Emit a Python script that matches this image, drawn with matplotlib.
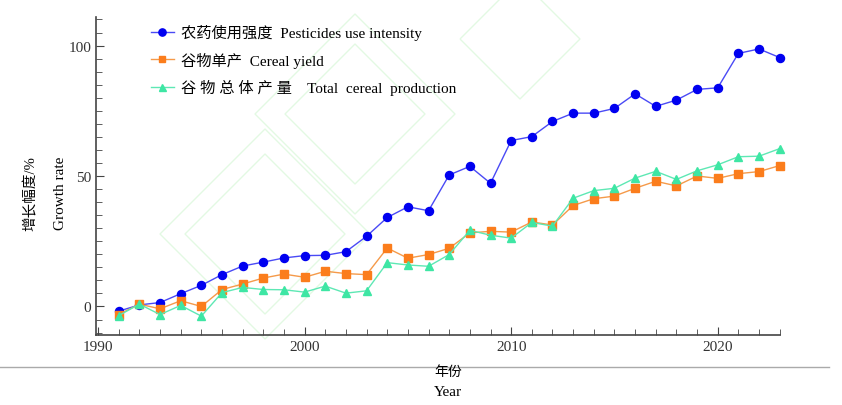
import numpy as np
import matplotlib
matplotlib.use('Agg')
import matplotlib.pyplot as plt
from matplotlib.ticker import MultipleLocator
from matplotlib.patches import Polygon

plt.rcParams['font.family'] = ['Liberation Serif', 'Noto Sans CJK SC']

# datos
years = list(range(1991, 2024))
pesticides = [-1.8, 0.6, 1.5, 4.9, 8.1, 12.2, 15.5, 17.0, 18.6, 19.5, 19.6,
              21.0, 26.9, 34.1, 38.2, 36.7, 50.4, 53.7, 47.2, 63.6, 65.1, 70.9,
              74.1, 74.1, 75.9, 81.5, 76.7, 79.1, 83.2, 83.8, 97.0, 98.7, 95.4]
yield_ = [-3.1, 0.9, -0.9, 2.2, 0.0, 6.5, 8.6, 10.9, 12.4, 11.2, 13.5,
          12.6, 12.2, 22.4, 18.5, 19.9, 22.3, 28.2, 28.8, 28.5, 32.4, 31.2,
          38.7, 41.3, 42.3, 45.3, 48.0, 46.2, 50.0, 49.1, 50.9, 51.7, 54.0]
production = [-3.5, 0.9, -3.1, 0.4, -3.7, 5.3, 7.3, 6.5, 6.4, 5.5, 7.8,
              5.1, 6.0, 16.8, 15.9, 15.4, 19.9, 29.2, 27.3, 26.2, 32.2, 30.8,
              41.5, 44.4, 45.3, 49.2, 51.8, 48.7, 52.0, 54.3, 57.4, 57.6, 60.5]
labels = ['农药使用强度  Pesticides use intensity',
          '谷物单产  Cereal yield',
          '谷 物 总 体 产 量    Total  cereal  production']

fig = plt.figure(figsize=(8.42, 4.06), dpi=100)

# marca de agua tenue (rombos verdes)
W, H = 842, 406
for cx, cy, r in [(265, 235, 105), (265, 235, 80), (355, 115, 100), (355, 115, 70),
                  (520, 40, 60)]:
    pts = [((cx - r) / W, 1 - cy / H), (cx / W, 1 - (cy - r) / H),
           ((cx + r) / W, 1 - cy / H), (cx / W, 1 - (cy + r) / H)]
    fig.add_artist(Polygon(pts, closed=True, fill=False, ec='#e3f9e3', lw=1.0,
                           transform=fig.transFigure, zorder=0))

ax = fig.add_axes([0.114, 0.172, 0.812, 0.784])
ax.patch.set_alpha(0)

ax.plot(years, pesticides, '-', color='#4a4af5', lw=1.0, marker='o', ms=5.8,
        mfc='#0000f0', mec='#0000f0', label=labels[0], clip_on=False)
ax.plot(years, yield_, '-', color='#f59a4a', lw=1.0, marker='s', ms=5.4,
        mfc='#fb7d1c', mec='#fb7d1c', label=labels[1], clip_on=False)
ax.plot(years, production, '-', color='#5ee8b4', lw=1.0, marker='^', ms=5.6,
        mfc='#3ee6a4', mec='#3ee6a4', label=labels[2], clip_on=False)

ax.set_xlim(1989.9, 2023)
ax.set_ylim(-11, 111)
ax.xaxis.set_major_locator(MultipleLocator(10))
ax.xaxis.set_minor_locator(MultipleLocator(1))
ax.yaxis.set_major_locator(MultipleLocator(50))
ax.yaxis.set_minor_locator(MultipleLocator(5))
ax.tick_params(which='both', direction='in', colors='#444444', labelcolor='#333333',
               labelsize=11)
ax.tick_params(which='major', length=6)
ax.tick_params(which='minor', length=4)
for s in ['top', 'right']:
    ax.spines[s].set_visible(False)
for s in ['left', 'bottom']:
    ax.spines[s].set_color('#444444')
    ax.spines[s].set_linewidth(1.2)

leg = ax.legend(loc='upper left', bbox_to_anchor=(0.06, 1.02), frameon=False,
                fontsize=11, handlelength=1.5, labelspacing=0.75, handletextpad=0.45,
                markerscale=0.9)

# etiquetas de los ejes
fig.text(0.037, 0.523, '增长幅度/%', rotation=90, ha='center', va='center', fontsize=10.5)
fig.text(0.072, 0.523, 'Growth rate', rotation=90, ha='center', va='center', fontsize=11)
fig.text(0.532, 0.083, '年份', ha='center', va='center', fontsize=10)
fig.text(0.532, 0.033, 'Year', ha='center', va='center', fontsize=11)

# línea gris de la página
fig.add_artist(plt.Line2D([0, 0.985], [0.094, 0.094], color='#aaaaaa', lw=1.0,
                          transform=fig.transFigure))

fig.savefig('out.png', dpi=100)
